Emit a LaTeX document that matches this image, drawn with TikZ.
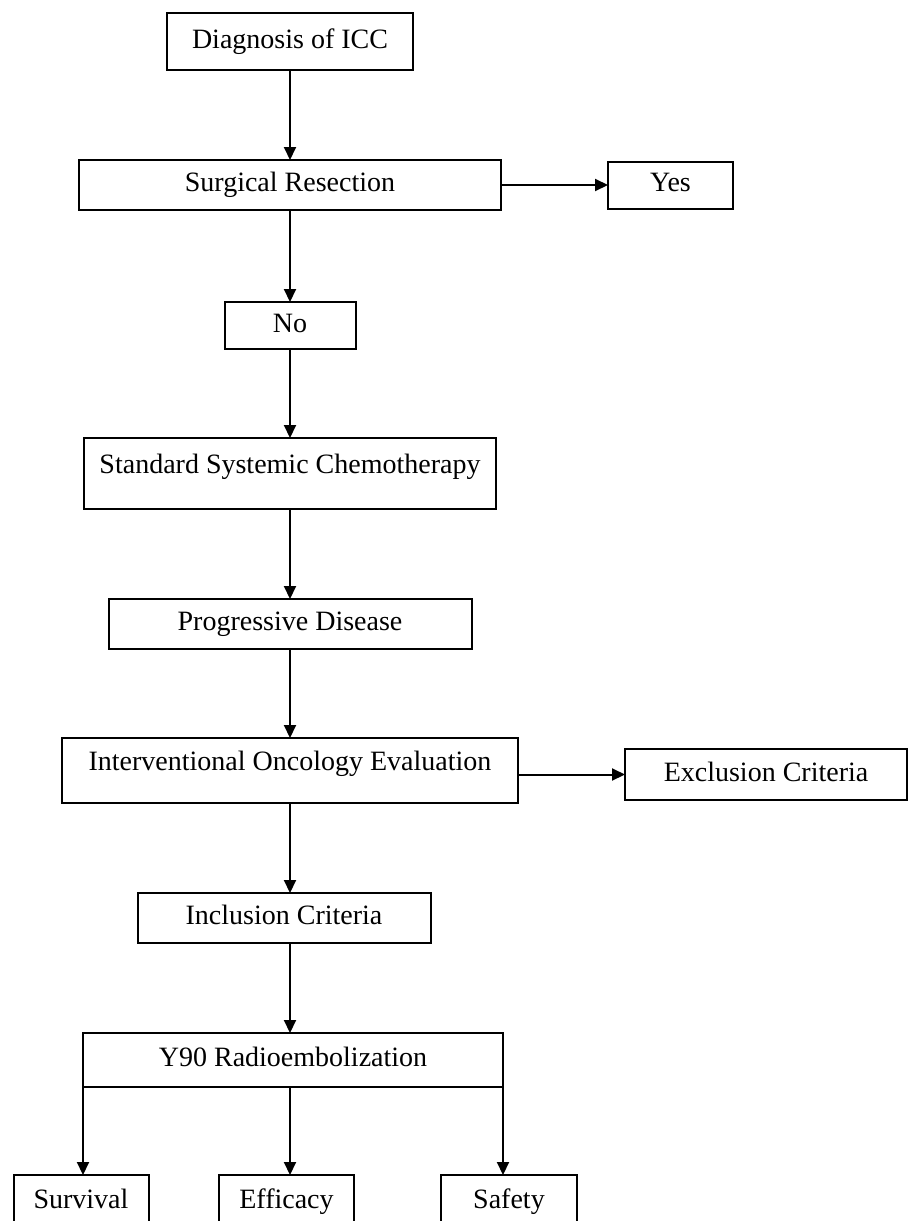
\documentclass[tikz,border=0pt]{standalone}
\usepackage{fontspec}
\setmainfont{Liberation Serif}
\usetikzlibrary{arrows.meta,positioning}

\begin{document}
\begin{tikzpicture}[x=1pt,y=-1pt,->,>={Triangle[length=13pt,width=12pt]},
					line width=2pt,node distance=90pt and 107pt,
					box/.style={draw,-,inner sep=0pt,outer sep=0pt,text height=19pt,text depth=6pt,
						font=\fontsize{28}{32}\selectfont},
					tall box/.style={box,text depth=19pt}]

					\path[use as bounding box,clip] (0,0) rectangle (909,1221);

					\node[box,minimum width=246pt,minimum height=57pt] (diag) at (290,41.5) {Diagnosis of ICC};
					\node[box,minimum width=422pt,minimum height=50pt] (surg) [below=of diag] {Surgical Resection};
					\node[box,minimum width=125pt,minimum height=47pt] (yes) [right=of surg] {Yes};
					\node[box,minimum width=131pt,minimum height=47pt] (no) [below=92pt of surg] {No};
					\node[tall box,minimum width=412pt,minimum height=71pt] (chemo) [below=89pt of no] {Standard Systemic Chemotherapy};
					\node[box,minimum width=363pt,minimum height=50pt] (prog) [below=of chemo] {Progressive Disease};
					\node[tall box,minimum width=456pt,minimum height=65pt] (interv) [below=89pt of prog] {Interventional Oncology Evaluation};
					\node[box,minimum width=282pt,minimum height=51pt] (excl) [right=of interv,yshift=-4pt] {Exclusion Criteria};
					\node[box,minimum width=293pt,minimum height=50pt] (incl) [below=of interv,xshift=-6pt] {Inclusion Criteria};
					\node[box,minimum width=420pt,minimum height=54pt] (y90) [below=of incl,xshift=9pt] {Y90 Radioembolization};
					\node[box,minimum width=135pt,minimum height=53pt] (surv) [below=88pt of y90.south west,xshift=-2pt] {Survival};
					\node[box,minimum width=135pt,minimum height=53pt] (eff) [below=88pt of y90.south,xshift=-6.5pt] {Efficacy};
					\node[box,minimum width=136pt,minimum height=53pt] (safe) [below=88pt of y90.south east,xshift=6pt] {Safety};

					\draw (diag) -- (surg);
					\draw (surg) -- (yes);
					\draw (surg) -- (no);
					\draw (no) -- (chemo);
					\draw (chemo) -- (prog);
					\draw (prog) -- (interv);
					\draw (interv.east |- excl) -- (excl);
					\draw (interv) -- (interv |- incl.north);
					\draw (incl.south -| interv) -- (y90.north -| interv);
					\draw (y90.south west) -- (y90.south west |- surv.north);
					\draw (y90.south -| interv) -- (eff.north -| interv);
					\draw (y90.south east) -- (y90.south east |- safe.north);

				\end{tikzpicture}
\end{document}
